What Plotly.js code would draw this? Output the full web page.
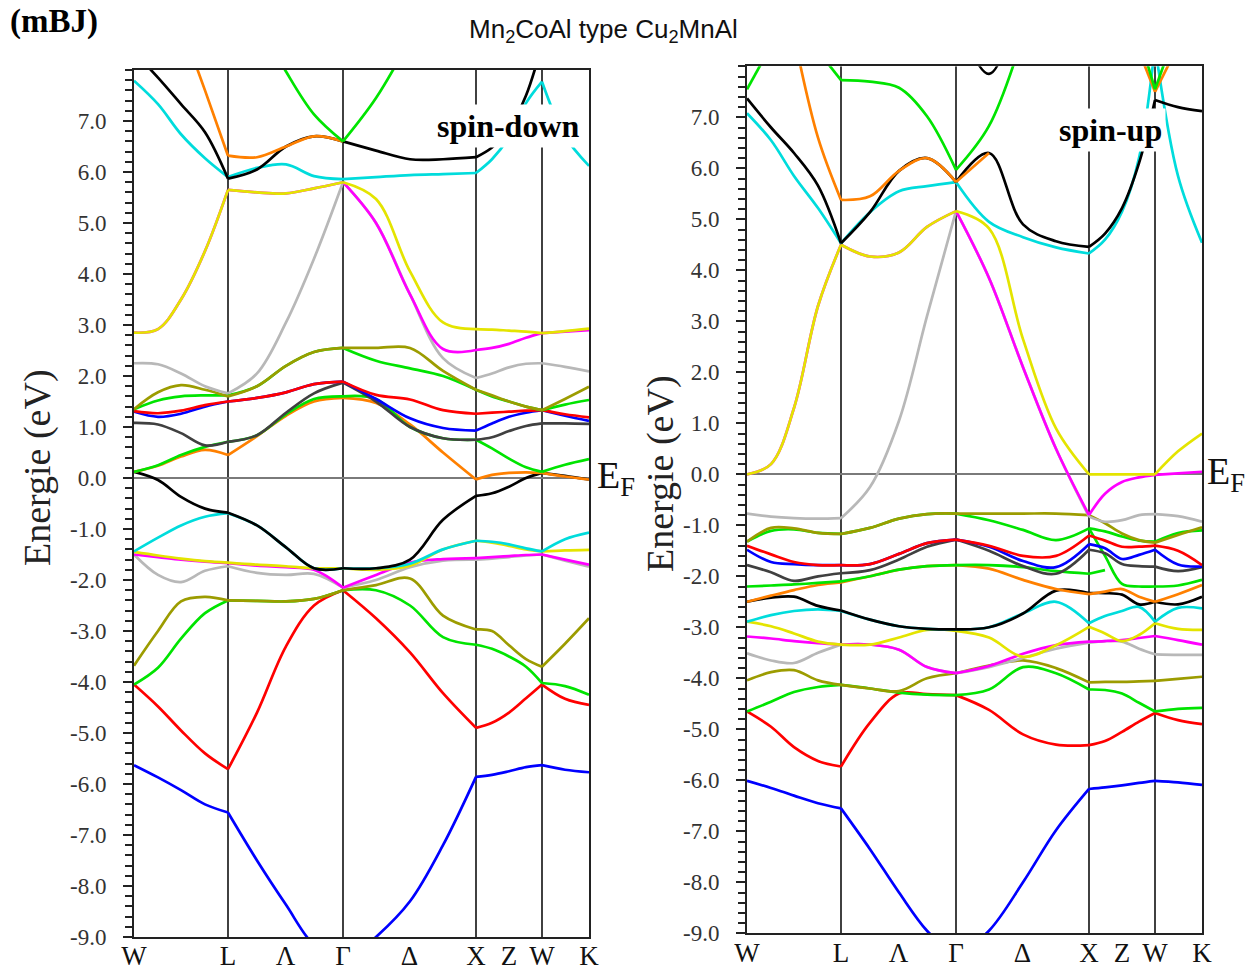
<!DOCTYPE html>
<html>
<head>
<meta charset="utf-8">
<script src="https://cdn.plot.ly/plotly-3.0.1.min.js"></script>
<style>html,body{margin:0;padding:0;background:#fff;}#chart{width:1249px;height:974px;}</style>
</head>
<body>
<div id="chart"></div>
<script>
// k-path grid: W(0) L(94) Γ(209) X(342) W(408) K(455)
const kGrid = [0,24,47,71,94,123,152,180,209,242,276,309,342,358,375,392,408,431,455];
const segBounds = [0,4,8,12,16,18];
const symLines = [94,209,342,408];
const tickK = [0,94,151.5,209,275.5,342,375,408,455];
const tickLabels = ['W','L','Λ','Γ','Δ','X','Z','W','K'];
const yTickVals = [-9,-8,-7,-6,-5,-4,-3,-2,-1,0,1,2,3,4,5,6,7];
const yTickText = ['-9.0','-8.0','-7.0','-6.0','-5.0','-4.0','-3.0','-2.0','-1.0','0.0','1.0','2.0','3.0','4.0','5.0','6.0','7.0'];

const C = {blue:'#0000ff', red:'#ff0000', green:'#00e400', olive:'#9c9c00', grey:'#b8b8b8',
  magenta:'#ff00ff', yellow:'#e4e400', cyan:'#00dcdc', black:'#000000', orange:'#ff8000', dgrey:'#404040'};
const N = null;

// ---------- spin-down (left panel) ----------
const dnBlueLow   = [-5.63,-5.87,-6.12,-6.4,-6.56,-7.5,-8.37,-9.16,-9.5,-9.0,-8.3,-7.2,-5.86,-5.82,-5.75,-5.67,-5.63,-5.72,-5.77];
const dnRedLow    = [-4.05,-4.48,-4.95,-5.4,-5.71,-4.6,-3.3,-2.5,-2.2,-2.75,-3.42,-4.22,-4.9,-4.8,-4.6,-4.32,-4.05,-4.33,-4.45];
const dnGreenLow  = [-4.05,-3.72,-3.15,-2.65,-2.4,-2.41,-2.42,-2.37,-2.2,-2.2,-2.5,-3.12,-3.27,-3.35,-3.5,-3.7,-4.02,-4.08,-4.25];
const dnOliveLow  = [-3.68,-3.0,-2.42,-2.33,-2.4,-2.41,-2.42,-2.37,-2.2,-2.1,-1.97,-2.7,-2.97,-3.0,-3.28,-3.55,-3.7,-3.25,-2.75];
const dnGreyLow   = [-1.5,-1.9,-2.04,-1.82,-1.73,-1.86,-1.9,-1.88,-2.15,-2.0,-1.75,-1.62,-1.6,-1.58,-1.55,-1.52,-1.5,-1.62,-1.74];
const dnMagMid    = [-1.5,-1.55,-1.6,-1.64,-1.67,-1.72,-1.75,-1.8,-2.15,-1.9,-1.66,-1.59,-1.57,-1.55,-1.53,-1.51,-1.5,-1.6,-1.7];
const dnYelMid    = [-1.45,-1.52,-1.58,-1.63,-1.66,-1.7,-1.73,-1.77,-1.77,-1.8,-1.72,-1.4,-1.23,-1.27,-1.33,-1.4,-1.44,-1.42,-1.41];
const dnCyanMid   = [-1.44,-1.17,-0.93,-0.76,-0.69,-0.93,-1.36,-1.77,-1.77,-1.77,-1.68,-1.4,-1.23,-1.25,-1.3,-1.38,-1.44,-1.2,-1.07];
const dnBlackMid  = [0.12,-0.04,-0.37,-0.6,-0.68,-0.93,-1.36,-1.77,-1.77,-1.77,-1.6,-0.82,-0.35,-0.3,-0.17,0.0,0.1,0.04,-0.03];
const dnOrangeMid = [0.12,0.24,0.42,0.55,0.45,0.82,1.22,1.5,1.57,1.47,1.05,0.5,-0.03,0.06,0.1,0.11,0.1,0.03,-0.03];
const dnGreenMid  = [0.12,0.25,0.45,0.61,0.71,0.84,1.25,1.55,1.6,1.55,1.0,0.78,0.75,0.58,0.38,0.21,0.12,0.26,0.37];
const dnDarkGrey  = [1.08,1.05,0.88,0.64,0.71,0.84,1.28,1.66,1.87,1.5,1.0,0.78,0.75,0.8,0.92,1.02,1.07,1.07,1.06];
const dnBlueMid   = [1.3,1.2,1.26,1.4,1.5,1.57,1.68,1.84,1.89,1.55,1.17,0.98,0.93,1.07,1.2,1.28,1.33,1.22,1.12];
const dnRedMid    = [1.31,1.27,1.32,1.43,1.5,1.57,1.68,1.84,1.89,1.63,1.54,1.33,1.26,1.28,1.3,1.32,1.33,1.25,1.19];
const dnGreenUp   = [1.35,1.52,1.6,1.62,1.62,1.8,2.2,2.47,2.55,2.3,2.15,2.0,1.73,1.6,1.5,1.4,1.33,1.44,1.53];
const dnOliveUp   = [1.35,1.68,1.82,1.73,1.6,1.8,2.2,2.47,2.55,2.55,2.55,2.1,1.73,1.62,1.5,1.4,1.33,1.55,1.79];
const dnGreyUp    = [2.25,2.23,2.05,1.8,1.66,2.05,3.05,4.3,5.8,5.0,3.6,2.35,1.96,2.05,2.17,2.24,2.25,2.18,2.09];
const dnMagUp     = [2.85,2.92,3.5,4.45,5.65,5.6,5.58,5.68,5.8,5.0,3.6,2.53,2.51,2.55,2.63,2.75,2.84,2.87,2.9];
const dnYelUp     = [2.85,2.92,3.5,4.45,5.65,5.6,5.58,5.68,5.8,5.47,4.05,3.05,2.92,2.91,2.89,2.87,2.84,2.88,2.93];
const dnCyanUp    = [7.79,7.33,6.74,6.27,5.9,6.08,6.15,5.92,5.86,5.9,5.94,5.96,5.98,6.25,6.68,7.35,7.77,6.7,6.12];
const dnBlackUp   = [8.35,7.85,7.33,6.78,5.87,6.05,6.5,6.7,6.6,6.42,6.25,6.25,6.29,6.48,6.85,7.5,8.5,N,N];
const dnOrangeUp  = [N,N,8.9,7.6,6.32,6.29,6.5,6.7,6.6,N,N,N,N,N,N,N,N,N,N];
const dnGreenTop  = [N,N,N,N,N,9.0,7.97,7.13,6.6,7.45,8.6,N,N,N,N,N,N,N,N];

// ---------- spin-up (right panel) ----------
const upBlueLow   = [-6.01,-6.15,-6.3,-6.45,-6.55,-7.35,-8.2,-8.95,-9.45,-8.95,-8.0,-6.98,-6.17,-6.14,-6.1,-6.05,-6.01,-6.04,-6.09];
const upRedLow    = [-4.65,-4.95,-5.35,-5.62,-5.73,-4.87,-4.3,-4.31,-4.33,-4.62,-5.1,-5.3,-5.31,-5.23,-5.05,-4.85,-4.68,-4.82,-4.9];
const upGreenLow  = [-4.65,-4.46,-4.27,-4.17,-4.13,-4.2,-4.28,-4.32,-4.33,-4.22,-3.78,-3.9,-4.22,-4.23,-4.3,-4.48,-4.65,-4.6,-4.58];
const upOliveLow  = [-4.04,-3.88,-3.84,-4.04,-4.13,-4.2,-4.25,-4.0,-3.9,-3.75,-3.65,-3.8,-4.08,-4.07,-4.07,-4.06,-4.05,-4.01,-3.97];
const upGreyLow   = [-3.51,-3.65,-3.7,-3.5,-3.34,-3.34,-3.44,-3.78,-3.9,-3.78,-3.6,-3.42,-3.3,-3.27,-3.28,-3.42,-3.53,-3.54,-3.54];
const upMagLow    = [-3.18,-3.22,-3.27,-3.31,-3.34,-3.34,-3.44,-3.78,-3.9,-3.76,-3.52,-3.35,-3.28,-3.27,-3.25,-3.21,-3.17,-3.25,-3.34];
const upYelLow    = [-2.89,-2.98,-3.12,-3.28,-3.34,-3.34,-3.2,-3.05,-3.07,-3.2,-3.58,-3.35,-2.99,-3.12,-3.27,-3.15,-2.92,-3.03,-3.05];
const upCyanLow   = [-2.89,-2.76,-2.68,-2.65,-2.68,-2.85,-2.98,-3.03,-3.04,-3.0,-2.73,-2.5,-2.92,-2.78,-2.68,-2.6,-2.89,-2.62,-2.63];
const upBlackLow  = [-2.5,-2.42,-2.4,-2.58,-2.67,-2.85,-2.98,-3.03,-3.04,-3.0,-2.73,-2.28,-2.33,-2.33,-2.36,-2.55,-2.5,-2.55,-2.4];
const upOrangeMid = [-2.5,-2.38,-2.27,-2.17,-2.12,-2.0,-1.87,-1.8,-1.78,-1.85,-2.07,-2.25,-2.35,-2.3,-2.25,-2.4,-2.5,-2.35,-2.17];
const upGreenMidB = [-2.2,-2.18,-2.16,-2.13,-2.1,-2.0,-1.87,-1.8,-1.78,-1.78,-1.82,-1.9,-1.95,-1.88,N,N,N,N,N];
const upGreenMidC = [N,N,N,N,N,N,N,N,N,N,N,N,-1.06,-1.6,-2.15,-2.2,-2.2,-2.18,-2.07];
const upDarkGrey  = [-1.78,-1.92,-2.09,-2.0,-1.94,-1.88,-1.67,-1.42,-1.28,-1.5,-1.8,-1.95,-1.48,-1.55,-1.76,-1.8,-1.81,-1.9,-1.82];
const upBlueMid   = [-1.48,-1.72,-1.76,-1.78,-1.78,-1.76,-1.56,-1.35,-1.28,-1.42,-1.7,-1.82,-1.37,-1.45,-1.66,-1.58,-1.48,-1.77,-1.81];
const upRedMid    = [-1.4,-1.57,-1.72,-1.78,-1.78,-1.76,-1.56,-1.35,-1.28,-1.4,-1.6,-1.6,-1.2,-1.3,-1.42,-1.42,-1.4,-1.5,-1.78];
const upGreenA    = [-1.32,-1.11,-1.08,-1.15,-1.17,-1.05,-0.87,-0.78,-0.77,-0.9,-1.09,-1.29,-1.06,-1.12,-1.22,-1.3,-1.32,-1.15,-1.1];
const upOliveMid  = [-1.32,-1.05,-1.06,-1.15,-1.17,-1.05,-0.87,-0.78,-0.77,-0.77,-0.77,-0.77,-0.8,-0.96,-1.16,-1.29,-1.34,-1.19,-1.04];
const upGreyMid   = [-0.77,-0.83,-0.86,-0.87,-0.86,-0.25,1.05,3.1,5.16,3.85,2.1,0.5,-0.83,-0.93,-0.9,-0.8,-0.78,-0.82,-0.93];
const upMagUp     = [0.0,0.2,1.3,3.3,4.5,4.27,4.35,4.85,5.16,3.85,2.1,0.5,-0.8,-0.38,-0.15,-0.06,-0.01,0.02,0.05];
const upYelUp     = [0.0,0.2,1.3,3.3,4.5,4.27,4.35,4.85,5.16,4.82,2.65,0.9,0.0,0.0,0.0,0.0,0.0,0.45,0.8];
const upCyanUp    = [7.08,6.55,5.85,5.22,4.53,5.14,5.55,5.65,5.73,4.95,4.65,4.45,4.33,4.6,5.15,6.2,8.4,5.85,4.54];
const upBlackUp   = [7.37,6.8,6.3,5.66,4.53,5.14,5.95,6.2,5.73,6.3,4.9,4.57,4.46,4.72,5.22,6.1,7.34,7.2,7.12];
const upOrangeUp  = [N,N,8.6,6.6,5.38,5.45,5.95,6.2,5.73,6.3,N,N,N,N,N,8.3,7.5,8.4,N];
const upGreenTop  = [7.55,8.4,N,8.3,7.73,7.7,7.58,7.02,5.97,6.83,8.6,N,N,N,N,8.6,7.55,8.8,N];
const upBlackTop  = [N,N,N,N,N,N,N,N,9.0,7.85,9.5,N,N,N,N,N,N,N,N];

// draw order: later entries are drawn on top
const dnBands = [
  [dnBlueLow,C.blue],[dnRedLow,C.red],[dnGreenLow,C.green],[dnOliveLow,C.olive],
  [dnGreyLow,C.grey],[dnMagMid,C.magenta],[dnYelMid,C.yellow],[dnCyanMid,C.cyan],[dnBlackMid,C.black],
  [dnOrangeMid,C.orange],[dnGreenMid,C.green],[dnDarkGrey,C.dgrey],[dnBlueMid,C.blue],[dnRedMid,C.red],
  [dnGreenUp,C.green],[dnOliveUp,C.olive],[dnGreyUp,C.grey],[dnMagUp,C.magenta],[dnYelUp,C.yellow],
  [dnCyanUp,C.cyan],[dnBlackUp,C.black],[dnOrangeUp,C.orange],[dnGreenTop,C.green]
];
const upBands = [
  [upBlueLow,C.blue],[upRedLow,C.red],[upGreenLow,C.green],[upOliveLow,C.olive],
  [upGreyLow,C.grey],[upMagLow,C.magenta],[upYelLow,C.yellow],[upCyanLow,C.cyan],[upBlackLow,C.black],
  [upOrangeMid,C.orange],[upGreenMidB,C.green],[upGreenMidC,C.green],[upDarkGrey,C.dgrey],[upBlueMid,C.blue],[upRedMid,C.red],
  [upGreenA,C.green],[upOliveMid,C.olive],[upGreyMid,C.grey],[upMagUp,C.magenta],[upYelUp,C.yellow],
  [upCyanUp,C.cyan],[upBlackUp,C.black],[upOrangeUp,C.orange],[upGreenTop,C.green],[upBlackTop,C.black]
];

const traces = [];
function addBands(list, xa, ya) {
  list.forEach(([e, col]) => {
    for (let s = 0; s < segBounds.length - 1; s++) {
      const i0 = segBounds[s], i1 = segBounds[s + 1];
      const ys = e.slice(i0, i1 + 1);
      if (ys.every(v => v === null)) continue;
      traces.push({
        x: kGrid.slice(i0, i1 + 1), y: ys, xaxis: xa, yaxis: ya,
        type: 'scatter', mode: 'lines', connectgaps: false,
        line: {color: col, width: 2.7, shape: 'spline', smoothing: 1},
        hoverinfo: 'skip', showlegend: false
      });
    }
  });
}
addBands(dnBands, 'x', 'y');
addBands(upBands, 'x2', 'y2');

const serif = 'Liberation Serif, Times New Roman, serif';
function xAxis(domain, anchor) {
  return {domain: domain, anchor: anchor, range: [0, 455], tickmode: 'array', tickvals: tickK, ticktext: tickLabels,
    ticks: '', ticklen: 0, ticklabelstandoff: -6, showgrid: false, zeroline: false, showline: true, mirror: true, linecolor: '#222', linewidth: 2,
    tickfont: {family: serif, size: 27, color: '#111'}, fixedrange: true};
}
function yAxis(domain, anchor) {
  return {domain: domain, anchor: anchor, range: [-9, 8], tickmode: 'array', tickvals: yTickVals, ticktext: yTickText,
    ticks: 'outside', ticklen: 9, tickwidth: 2, tickcolor: '#222',
    minor: {tickmode: 'linear', tick0: 0, dtick: 0.2, ticks: 'outside', ticklen: 7, tickwidth: 2, tickcolor: '#222', showgrid: false},
    showgrid: false, zeroline: true, zerolinecolor: '#7a7a7a', zerolinewidth: 2,
    showline: true, mirror: true, linecolor: '#222', linewidth: 2, ticklabelstandoff: 12,
    tickfont: {family: serif, size: 23, color: '#333'}, fixedrange: true};
}

const shapes = [];
symLines.forEach(k => {
  shapes.push({type: 'line', xref: 'x', yref: 'y', x0: k, x1: k, y0: -9, y1: 8, layer: 'below', line: {color: '#111', width: 1.6}});
  shapes.push({type: 'line', xref: 'x2', yref: 'y2', x0: k, x1: k, y0: -9, y1: 8, layer: 'below', line: {color: '#111', width: 1.6}});
});

const annotations = [
  {xref: 'paper', yref: 'paper', x: 603/1249, y: 1 - 31/974, xanchor: 'center', yanchor: 'middle', showarrow: false,
   text: 'Mn<sub>2</sub>CoAl type Cu<sub>2</sub>MnAl', font: {family: 'Liberation Sans Narrow, Liberation Sans, Arial, sans-serif', size: 26, color: '#111'}},
  {xref: 'paper', yref: 'paper', x: 8/1249, y: 1 - 22/974, xanchor: 'left', yanchor: 'middle', showarrow: false,
   text: '<b>(mBJ)</b>', font: {family: serif, size: 33, color: '#000'}},
  {xref: 'x', yref: 'y', x: 374, y: 6.9, xanchor: 'center', yanchor: 'middle', showarrow: false,
   text: '<b>spin-down</b>', bgcolor: '#ffffff', borderpad: 3, font: {family: serif, size: 32, color: '#000'}},
  {xref: 'x2', yref: 'y2', x: 363, y: 6.75, xanchor: 'center', yanchor: 'middle', showarrow: false,
   text: '<b>spin-up</b>', bgcolor: '#ffffff', borderpad: 3, font: {family: serif, size: 32, color: '#000'}},
  {xref: 'paper', yref: 'y', x: 595/1249, y: 0, xanchor: 'left', yanchor: 'middle', showarrow: false,
   text: 'E<sub>F</sub>', font: {family: serif, size: 38, color: '#111'}},
  {xref: 'paper', yref: 'y2', x: 1205/1249, y: 0, xanchor: 'left', yanchor: 'middle', showarrow: false,
   text: 'E<sub>F</sub>', font: {family: serif, size: 38, color: '#111'}},
  {xref: 'paper', yref: 'paper', x: 37/1249, y: 1 - 468/974, xanchor: 'center', yanchor: 'middle', showarrow: false, textangle: -90,
   text: 'Energie (eV)', font: {family: serif, size: 38, color: '#222'}},
  {xref: 'paper', yref: 'paper', x: 660/1249, y: 1 - 474/974, xanchor: 'center', yanchor: 'middle', showarrow: false, textangle: -90,
   text: 'Energie (eV)', font: {family: serif, size: 38, color: '#222'}}
];

const layout = {
  width: 1249, height: 974, margin: {l: 0, r: 0, t: 0, b: 0},
  paper_bgcolor: '#ffffff', plot_bgcolor: '#ffffff', showlegend: false,
  xaxis: xAxis([134/1249, 589/1249], 'y'),
  yaxis: yAxis([1 - 937/974, 1 - 70/974], 'x'),
  xaxis2: xAxis([747/1249, 1202/1249], 'y2'),
  yaxis2: yAxis([1 - 933.3/974, 1 - 66.3/974], 'x2'),
  shapes: shapes, annotations: annotations
};

Plotly.newPlot('chart', traces, layout, {displayModeBar: false, staticPlot: true});
</script>
</body>
</html>
